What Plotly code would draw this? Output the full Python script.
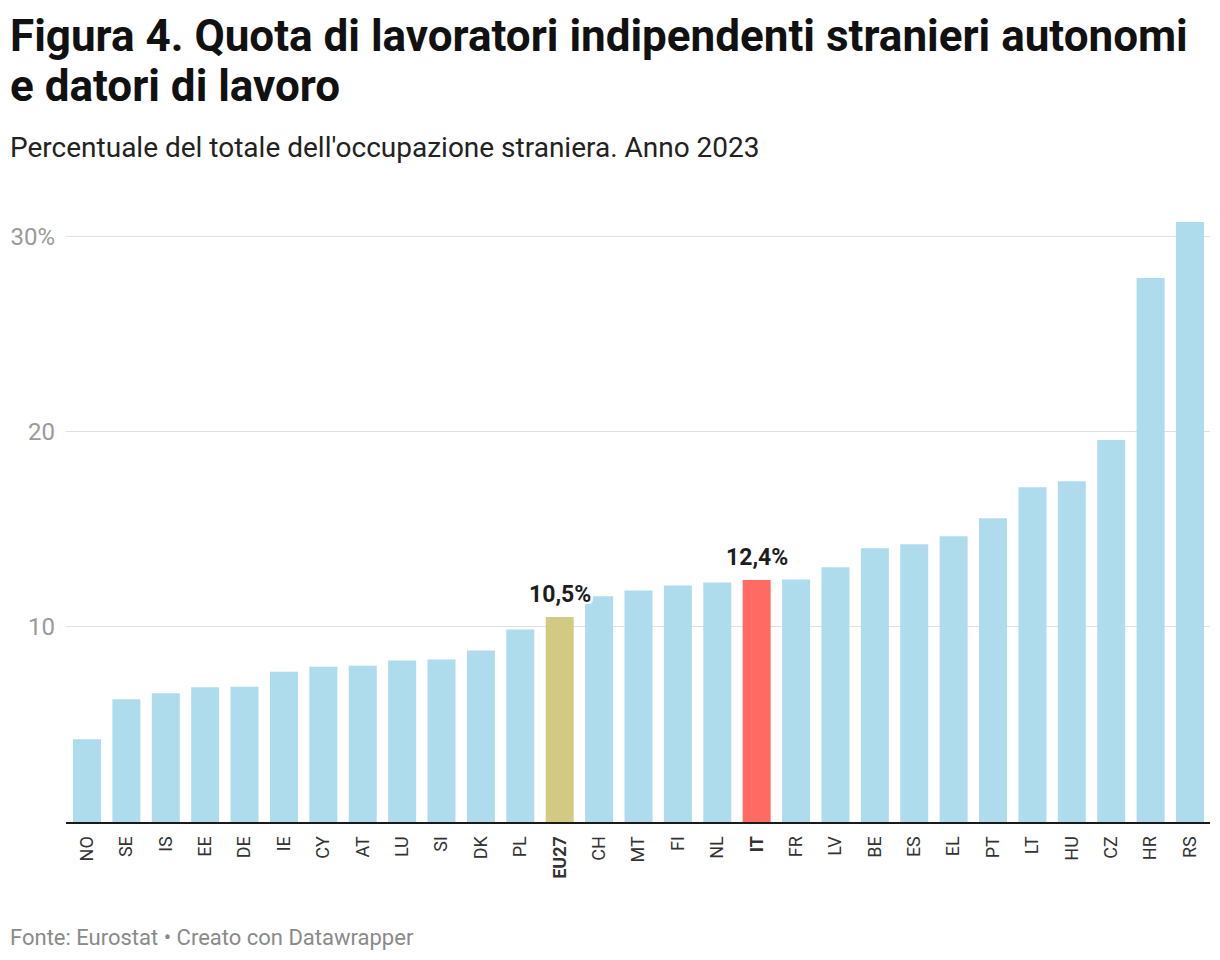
import plotly.graph_objects as go

# ---- data ----
countries = ["NO", "SE", "IS", "EE", "DE", "IE", "CY", "AT", "LU", "SI", "DK", "PL",
             "EU27", "CH", "MT", "FI", "NL", "IT", "FR", "LV", "BE", "ES", "EL", "PT",
             "LT", "HU", "CZ", "HR", "RS"]
values = [4.24, 6.29, 6.6, 6.9, 6.93, 7.7, 7.96, 8.01, 8.27, 8.32, 8.78, 9.86,
          10.5, 11.56, 11.86, 12.12, 12.27, 12.4, 12.43, 13.05, 14.02, 14.23, 14.64, 15.56,
          17.15, 17.46, 19.57, 27.87, 30.74]
highlight = {"EU27": "#d2c982", "IT": "#ff6b63"}
labelled = ["EU27", "IT"]
y_ticks = [10, 20, 30]

title_lines = ["Figura 4. Quota di lavoratori indipendenti stranieri autonomi",
               "e datori di lavoro"]
subtitle = "Percentuale del totale dell'occupazione straniera. Anno 2023"
footer = "Fonte: Eurostat • Creato con Datawrapper"

# ---- layout geometry ----
W, H = 1220, 960
L, R = 66, 1210
TOP, BOT = 213.3, 821.7
PW, PH = R - L, BOT - TOP


def px_x(x):
    return (x - L) / PW


def px_y(y):
    return (BOT - y) / PH


base = "#afdced"
colors = [highlight.get(c, base) for c in countries]
ticktext = [f"<b>{c}</b>" if c in highlight else c for c in countries]
ytext = [f"{v}%" if v == max(y_ticks) else str(v) for v in y_ticks]

fig = go.Figure(go.Bar(x=countries, y=values, marker=dict(color=colors, line=dict(width=0)),
                       hoverinfo="x+y"))

halo = ",".join(f"{dx}px {dy}px 0 #fff" for dx in (-2, -1, 0, 1, 2) for dy in (-2, -1, 0, 1, 2))
for c in labelled:
    v = values[countries.index(c)]
    fig.add_annotation(x=c, y=v, text=f"<b>{str(v).replace('.', ',')}%</b>",
                       showarrow=False, yanchor="bottom", yshift=7,
                       font=dict(family="Roboto", size=23, color="#1d1d1d", shadow=halo))

TS = 44
for i, line in enumerate(title_lines):
    baseline = 50 + 50 * i
    fig.add_annotation(xref="paper", yref="paper", x=px_x(8), y=px_y(baseline - 0.3 * TS),
                       xanchor="left", yanchor="middle", text=f"<b>{line}</b>", showarrow=False,
                       font=dict(family="Roboto", size=TS, color="#111"))

fig.add_annotation(xref="paper", yref="paper", x=px_x(8), y=px_y(156 - 0.3 * 28), xanchor="left",
                   yanchor="middle", text=subtitle, showarrow=False,
                   font=dict(family="Roboto", size=28, color="#222"))
fig.add_annotation(xref="paper", yref="paper", x=px_x(8), y=px_y(937), xanchor="left",
                   yanchor="middle", text=footer, showarrow=False,
                   font=dict(family="Roboto", size=22, color="#8a8a8a"))

fig.update_layout(
    width=W, height=H,
    margin=dict(l=L, r=W - R, t=TOP, b=H - BOT, pad=0),
    paper_bgcolor="white", plot_bgcolor="white",
    showlegend=False,
    bargap=0.289,
    xaxis=dict(type="category", range=[-0.533, len(countries) - 0.492],
               tickmode="array", tickvals=countries, ticktext=ticktext,
               tickangle=-90, ticks="", showgrid=False, zeroline=False,
               showline=True, linecolor="#1a1a1a", linewidth=2, ticklabelstandoff=5,
               tickfont=dict(family="Roboto", size=18, color="#333"), fixedrange=True),
    yaxis=dict(range=[0, PH / 19.5], tickmode="array", tickvals=y_ticks, ticktext=ytext,
               showgrid=True, gridcolor="#e0e0e0", gridwidth=1, zeroline=False,
               ticks="", ticklabelstandoff=10, showline=False,
               tickfont=dict(family="Roboto", size=24, color="#9a9a9a"), fixedrange=True),
    font=dict(family="Roboto"),
)

fig.write_html("out.html", config={"displayModeBar": False},
               post_script="document.body.style.margin='0';")
